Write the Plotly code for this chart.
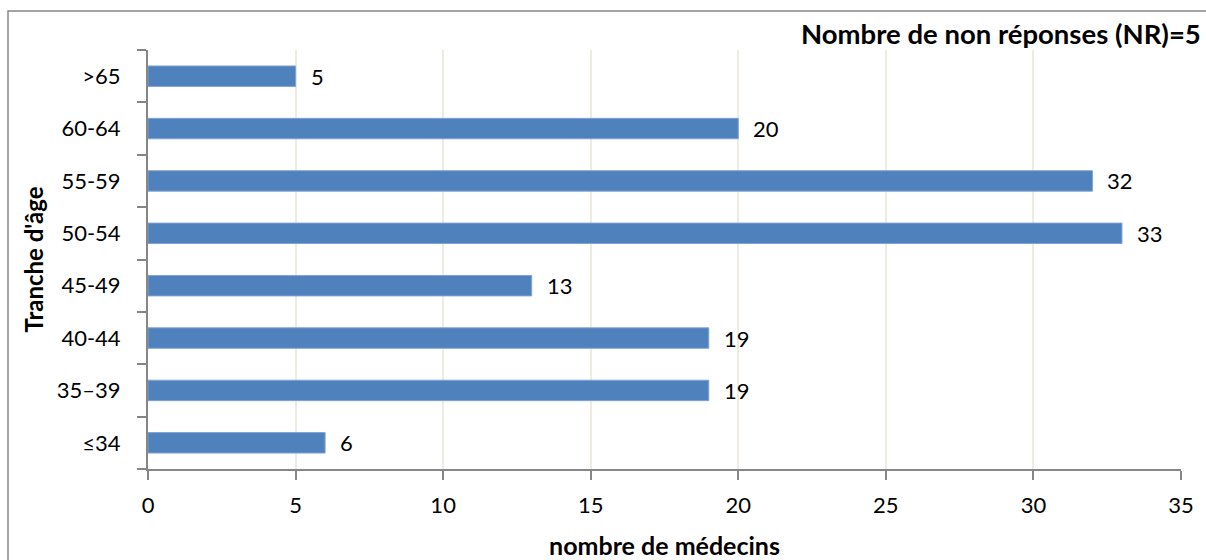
import plotly.graph_objects as go

categories = ["≤34", "35–39", "40-44", "45-49", "50-54", "55-59", "60-64", ">65"]
values = [6, 19, 19, 13, 33, 32, 20, 5]
x_ticks = [0, 5, 10, 15, 20, 25, 30, 35]

FONT = "Lato"

fig = go.Figure()
fig.add_trace(go.Bar(
    x=values, y=categories, orientation="h",
    marker=dict(color="#4F81BD", line=dict(color="#7FA3D3", width=1)),
    width=0.39,
    hoverinfo="x+y",
))

annotations = []
for c, v in zip(categories, values):
    annotations.append(dict(x=v, y=c, xref="x", yref="y", text=str(v), showarrow=False,
                            xanchor="left", yanchor="middle", xshift=13,
                            font=dict(family=FONT, size=22, color="#000000")))
annotations.append(dict(x=1.0, y=1.04, xref="paper", yref="paper", xanchor="right", yanchor="middle",
                        xshift=22, text="<b>Nombre de non réponses (NR)=5</b>", showarrow=False,
                        font=dict(family=FONT, size=27.5, color="#000000")))

fig.update_layout(
    width=1206, height=560,
    margin=dict(l=148, r=25, t=50, b=91),
    paper_bgcolor="white", plot_bgcolor="white",
    showlegend=False,
    annotations=annotations,
    font=dict(family=FONT, size=22, color="#000000"),
    xaxis=dict(
        range=[0, 35], tickvals=x_ticks, ticktext=[str(t) for t in x_ticks],
        showgrid=True, gridcolor="#EEECE1", gridwidth=1.5,
        showline=True, linecolor="#868686", linewidth=2,
        ticks="outside", ticklen=9, tickcolor="#868686", tickwidth=2,
        ticklabelstandoff=7,
        tickfont=dict(family=FONT, size=22, color="#000000"),
        zeroline=False, automargin=False,
        title=dict(text="<b>nombre de médecins</b>", font=dict(family=FONT, size=25), standoff=20),
    ),
    yaxis=dict(
        categoryorder="array", categoryarray=categories,
        showline=True, linecolor="#868686", linewidth=2,
        ticks="outside", ticklen=9, tickcolor="#868686", tickwidth=2,
        tickson="boundaries",
        ticklabelstandoff=21,
        tickfont=dict(family=FONT, size=22, color="#000000"),
        showgrid=False, automargin=False,
        title=dict(text="<b>Tranche d'âge</b>", font=dict(family=FONT, size=24), standoff=6),
    ),
    shapes=[dict(type="rect", xref="paper", yref="paper",
                 x0=(8 - 148) / 1033, x1=(1220 - 148) / 1033,
                 y0=(469 - 600) / 419, y1=(469 - 11) / 419,
                 line=dict(color="#868686", width=1.5), fillcolor="rgba(0,0,0,0)", layer="below")],
)

fig.write_html("out.html", config={"displayModeBar": False},
               post_script="document.body.style.margin='0';document.body.style.overflow='hidden';")
